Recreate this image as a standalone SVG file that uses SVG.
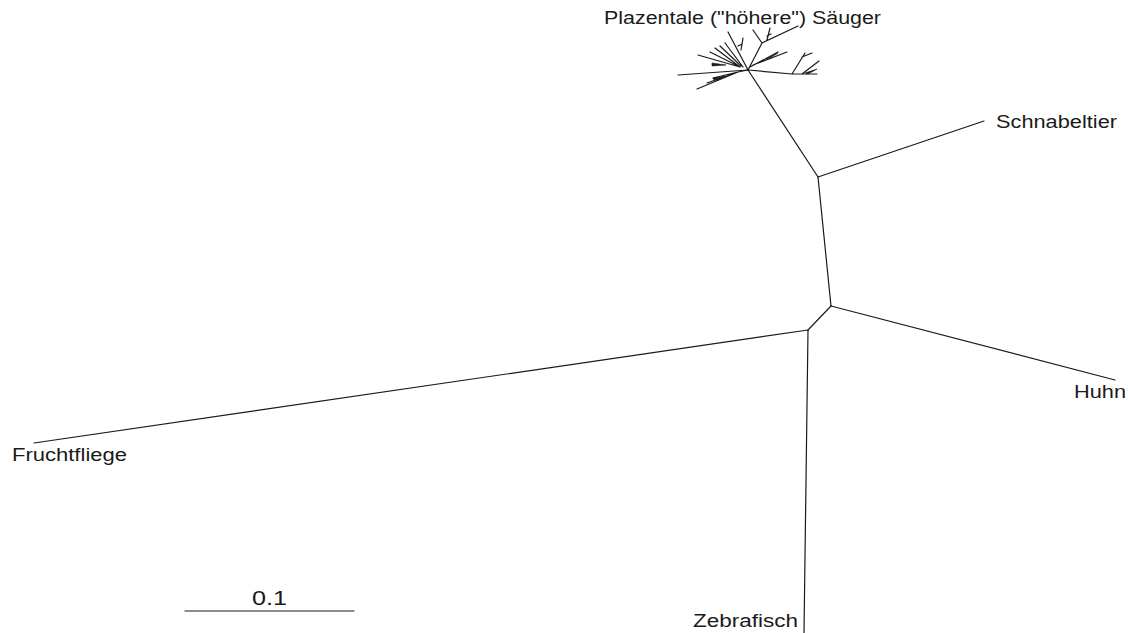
<svg xmlns="http://www.w3.org/2000/svg" width="1128" height="633" viewBox="0 0 1128 633">
<style>
.e{fill:none;stroke:#1a1a1a;stroke-width:1.2;stroke-linecap:round;stroke-linejoin:round}
.t{fill:#1a1a1a;stroke:#1a1a1a;stroke-width:0.6}
.l{font-family:"Liberation Sans",Arial,sans-serif;font-size:17.5px;fill:#1a1a1a}
</style>
<rect width="1128" height="633" fill="#fff"/>
<g id="connectors">
<path class="e" d="M818,177 L984,121"/>
<path class="e" d="M818,177 L831,306"/>
<path class="e" d="M831,306 L1115,380"/>
<path class="e" d="M831,306 L808,330"/>
<path class="e" d="M808,330 L34,443"/>
<path class="e" d="M808,330 L804,633"/>
<path class="e" d="M748,70 L818,177"/>
<path class="e" d="M185,611 L354,611"/>
</g>
<g id="node-placentals">
<path class="e" d="M748,70 L762,43 L753,30 M762,43 L798,26 M767,40 L770,28 M767,36 L771,34"/>
<path class="e" d="M748,70 L728,32 M741,50 L743,38 M738,46 L742,44"/>
<path class="e" d="M740,67 L698,55 M740,67 L710,52 M740,67 L715,48 M741,66 L720,46 M743,67 L725,43"/>
<path class="t" d="M712,63 L726,65 L712,66 Z"/>
<path class="e" d="M748,70 L678,75"/>
<path class="e" d="M748,70 L738,72 L697,89 M738,72 L707,83 M738,72 L713,78"/>
<path class="t" d="M713,78 L726,76 L714,80 Z"/>
<path class="e" d="M748,70 L792,74 L817,74 M792,74 L805,53 M802,57 L812,53 M802,74 L819,61"/>
<path class="t" d="M805,73 L817,69 L808,74 Z"/>
<path class="e" d="M750,67 L778,52 M753,65 L787,52"/>
<path class="t" d="M766,59 L778,53 L770,58 Z"/>
<text class="l" x="604" y="24" textLength="277" lengthAdjust="spacingAndGlyphs">Plazentale ("höhere") Säuger</text>
</g>
<g id="node-schnabeltier">
<text class="l" x="996" y="128" textLength="121" lengthAdjust="spacingAndGlyphs">Schnabeltier</text>
</g>
<g id="node-huhn">
<text class="l" x="1074" y="398" textLength="52" lengthAdjust="spacingAndGlyphs">Huhn</text>
</g>
<g id="node-fruchtfliege">
<text class="l" x="12" y="461" textLength="115" lengthAdjust="spacingAndGlyphs">Fruchtfliege</text>
</g>
<g id="node-zebrafisch">
<text class="l" x="693" y="627" textLength="105" lengthAdjust="spacingAndGlyphs">Zebrafisch</text>
</g>
<g id="scale">
<text class="l" x="252" y="605" textLength="35" lengthAdjust="spacingAndGlyphs" style="font-size:20px">0.1</text>
</g>
</svg>
